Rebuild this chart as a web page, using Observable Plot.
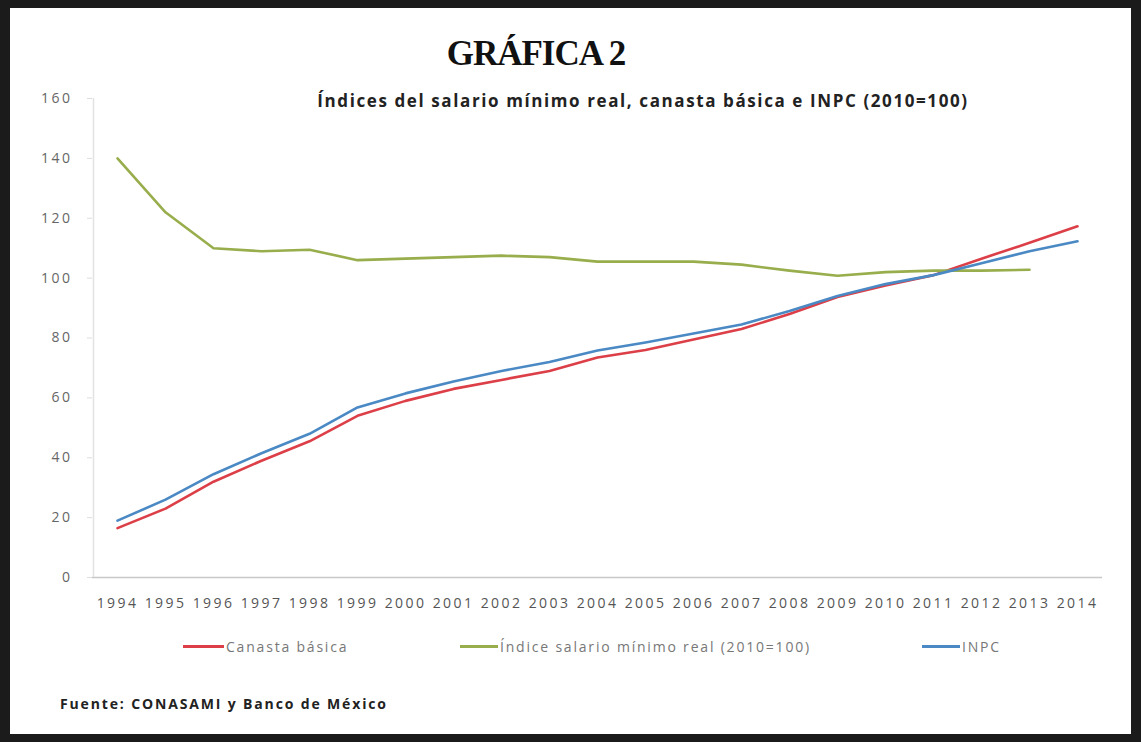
<!DOCTYPE html>
<html><head><meta charset="utf-8">
<script src="https://cdn.jsdelivr.net/npm/d3@7"></script>
<script src="https://cdn.jsdelivr.net/npm/@observablehq/plot@0.6"></script>
<style>
html,body{margin:0;padding:0;background:#fff;}
#frame{position:relative;width:1141px;height:742px;background:#1b1b1b;overflow:hidden;}
#inner{position:absolute;left:10px;top:8px;width:1121px;height:726px;background:#fff;}
#chart{position:absolute;left:0;top:0;}
#chart g[aria-label="x-axis tick label"] text{letter-spacing:2.4px;}
#chart g[aria-label="y-axis tick label"] text{letter-spacing:2.5px;}
.title{position:absolute;left:326px;width:400px;top:26px;text-align:center;font-family:"Liberation Serif",serif;font-weight:bold;font-size:35px;letter-spacing:-1px;color:#111;}
.subtitle{position:absolute;left:233px;width:800px;top:81px;text-align:center;font-family:"Open Sans",sans-serif;font-weight:bold;font-size:17px;letter-spacing:1.6px;color:#222;}
.leg{position:absolute;top:629px;font-family:"Open Sans",sans-serif;font-size:14px;letter-spacing:1.8px;color:#777;display:flex;align-items:center;white-space:nowrap;}
.sw{display:inline-block;height:3px;margin-right:2px;}
.foot{position:absolute;left:50px;top:686px;font-family:"Open Sans",sans-serif;font-weight:bold;font-size:14px;letter-spacing:1.85px;color:#222;}
</style>
</head><body>
<div id="frame"><div id="inner">
<div id="chart"></div>
<div class="title">GRÁFICA 2</div>
<div class="subtitle">Índices del salario mínimo real, canasta básica e INPC (2010=100)</div>
<div id="legend"></div>
<div class="foot">Fuente: CONASAMI y Banco de México</div>
</div></div>
<script>
const years = [1994,1995,1996,1997,1998,1999,2000,2001,2002,2003,2004,2005,2006,2007,2008,2009,2010,2011,2012,2013,2014];
const canasta = [16.5,23,32,39,45.5,54,59,63,66,69,73.5,76,79.5,83,88,93.7,97.5,101,106.5,111.8,117.3];
const salario = [140,122,110,109,109.5,106,106.5,107,107.5,107,105.5,105.5,105.5,104.5,102.5,100.8,102,102.5,102.5,102.8,null];
const inpc = [19,26,34.5,41.5,48,56.8,61.5,65.5,69,72,75.8,78.5,81.5,84.5,89,94,98,101,105,109,112.3];
const seriesNames = ["Canasta básica","Índice salario mínimo real (2010=100)","INPC"];
const seriesColors = ["#dc3f47","#98ad4c","#4a89c4"];
const yTicks = [0,20,40,60,80,100,120,140,160];

const seriesValues = [canasta, salario, inpc];
const data = [];
seriesNames.forEach((name, i) => {
  years.forEach((yr, j) => {
    const v = seriesValues[i][j];
    if (v != null) data.push({year: yr, value: v, series: name});
  });
});

const chart = Plot.plot({
  width: 1121,
  height: 620,
  marginTop: 90,
  marginBottom: 51,
  marginLeft: 82,
  marginRight: 29,
  style: {background: "transparent", fontFamily: "Open Sans, sans-serif"},
  x: {type: "point", domain: years, padding: 0.5, label: null},
  y: {domain: [0, 160], label: null},
  color: {domain: seriesNames, range: seriesColors},
  marks: [
    Plot.ruleY([0], {stroke: "#c8c8c8", strokeWidth: 1.5}),
    Plot.ruleX([years[0]], {dx: -24, y1: 0, y2: 160, stroke: "#e2e2e2", strokeWidth: 1.5}),
    Plot.axisY({ticks: yTicks, tickSize: 5, tickPadding: 15, stroke: "#dddddd", tickFormat: d => String(d), fontSize: 14, fill: "#666", label: null}),
    Plot.axisX({tickSize: 0, tickPadding: 21, tickFormat: d => String(d), fontSize: 14, fill: "#555", label: null}),
    Plot.lineY(data, {x: "year", y: "value", z: "series", stroke: "series", strokeWidth: 2.6})
  ]
});
document.getElementById("chart").appendChild(chart);

const legendPos = [173, 450, 912];
const legendSw = [41, 38, 38];
const legend = document.getElementById("legend");
seriesNames.forEach((name, i) => {
  const item = document.createElement("div");
  item.className = "leg";
  item.style.left = legendPos[i] + "px";
  const sw = document.createElement("span");
  sw.className = "sw";
  sw.style.width = legendSw[i] + "px";
  sw.style.background = seriesColors[i];
  item.appendChild(sw);
  item.appendChild(document.createTextNode(name));
  legend.appendChild(item);
});
</script>
</body></html>
